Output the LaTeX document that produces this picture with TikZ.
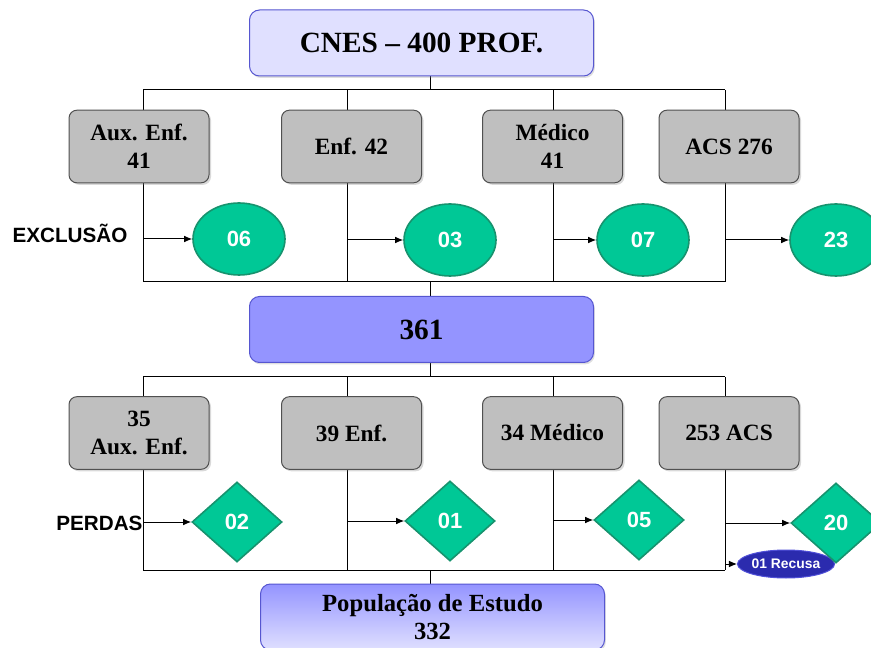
\documentclass[tikz,border=0pt]{standalone}
\usepackage{fontspec}
\setmainfont{Liberation Serif}
\setsansfont{Liberation Sans}
\usetikzlibrary{shapes.geometric,shadows,arrows.meta,positioning}

\definecolor{topfill}{HTML}{E0E0FF}
\definecolor{boxline}{HTML}{5656D0}
\definecolor{midfill}{HTML}{9494FF}
\definecolor{grayfill}{HTML}{BFBFBF}
\definecolor{grayline}{HTML}{505050}
\definecolor{greenfill}{HTML}{00C896}
\definecolor{greenline}{HTML}{17936E}
\definecolor{recfill}{HTML}{2B2BAE}
\definecolor{recline}{HTML}{5050D8}

\begin{document}
\begin{tikzpicture}[x=0.75pt,y=-0.75pt,line width=0.75pt,
  bluebox/.style={draw=boxline,rounded corners=7.5pt,minimum width=258pt,minimum height=49.5pt,
    font=\fontsize{22}{26}\selectfont\bfseries,align=center,
    drop shadow={opacity=0.25,shadow xshift=1pt,shadow yshift=-1.5pt}},
  graybox/.style={draw=grayline,fill=grayfill,rounded corners=6pt,minimum width=105pt,minimum height=54.5pt,
    font=\fontsize{17.5}{21}\selectfont\bfseries,align=center,inner sep=1pt,
    drop shadow={opacity=0.3,shadow xshift=1.5pt,shadow yshift=-1.5pt}},
  loss/.style={draw=greenline,line width=1.2pt,fill=greenfill,text=white,
    font=\sffamily\bfseries\fontsize{16.5}{19}\selectfont,inner sep=0pt},
  oval/.style={loss,ellipse,minimum width=69pt,minimum height=54pt},
  rhomb/.style={loss,diamond,minimum width=67.5pt,minimum height=60pt},
  sidelabel/.style={font=\sffamily\bfseries\fontsize{15.5}{18}\selectfont,inner sep=0pt},
  arr/.style={-{Latex[length=6pt,width=5pt]}}]
\clip (0,0) rectangle (871,648);
\useasboundingbox (0,0) rectangle (871,648);

% columns
\coordinate (c1) at (143,0);
\coordinate (c2) at (347,0);
\coordinate (c3) at (553,0);
\coordinate (c4) at (725,0);

% lines of the first level
\draw (430,76) -- (430,90);
\draw (143,90) -- (725,90);
\foreach \x in {143,347,553,725} \draw (\x,90) -- (\x,282);
\draw (143,282) -- (725,282);
\draw (430,282) -- (430,297);

% lines of the second level
\draw (430,362) -- (430,377);
\draw (143,377) -- (725,377);
\foreach \x in {143,347,553,725} \draw (\x,377) -- (\x,570);
\draw (143,570) -- (725,570);
\draw (430,570) -- (430,584);

% boxes
\node[bluebox,fill=topfill] (cnes) at (421.5,43) {CNES -- 400 PROF.};

\node[graybox] (aux) at (139,146.5) {Aux. Enf.\\41};
\node[graybox] (enf) at (351.5,146.5) {Enf. 42};
\node[graybox] (med) at (552.5,146.5) {Médico\\41};
\node[graybox] (acs) at (729,146.5) {ACS 276};

\node[oval] (ex1) at (239,239) {06};
\node[oval] (ex2) at (450,240) {03};
\node[oval] (ex3) at (643,240) {07};
\node[oval] (ex4) at (836,240) {23};

\node[sidelabel] (excl) at (70,233) {EXCLUSÃO};

\node[bluebox,fill=midfill] (total) at (421.5,329.5) {361};

\node[graybox] (aux2) at (139,433) {35\\Aux. Enf.};
\node[graybox] (enf2) at (351.5,433) {39 Enf.};
\node[graybox] (med2) at (552.5,433) {34 Médico};
\node[graybox] (acs2) at (729,433) {253 ACS};

\node[ellipse,draw=recline,fill=recfill,text=white,inner sep=0pt,minimum width=68pt,minimum height=21pt,
  font=\sffamily\bfseries\fontsize{10.4}{12}\selectfont] (recusa) at (786,564) {01 Recusa};

\node[rhomb] (pd1) at (237,522) {02};
\node[rhomb] (pd2) at (450,521) {01};
\node[rhomb] (pd3) at (639,520) {05};
\node[rhomb] (pd4) at (836,523) {20};

\node[sidelabel,anchor=east] (perdas) at (143,523) {PERDAS};

\node[bluebox,top color=midfill,bottom color=topfill,minimum width=258pt,minimum height=49.5pt,
  font=\fontsize{18.5}{21}\selectfont\bfseries] (pop) at (432.5,617) {População de Estudo\\332};

% arrows
\draw[arr] (ex1.west -| c1) -- (ex1.west);
\draw[arr] (ex2.west -| c2) -- (ex2.west);
\draw[arr] (ex3.west -| c3) -- (ex3.west);
\draw[arr] (ex4.west -| c4) -- (ex4.west);
\draw[arr] (pd1.west -| c1) -- (pd1.west);
\draw[arr] (pd2.west -| c2) -- (pd2.west);
\draw[arr] (pd3.west -| c3) -- (pd3.west);
\draw[arr] (pd4.west -| c4) -- (pd4.west);
\draw[arr] (recusa.west -| c4) -- (recusa.west);
\end{tikzpicture}
\end{document}
